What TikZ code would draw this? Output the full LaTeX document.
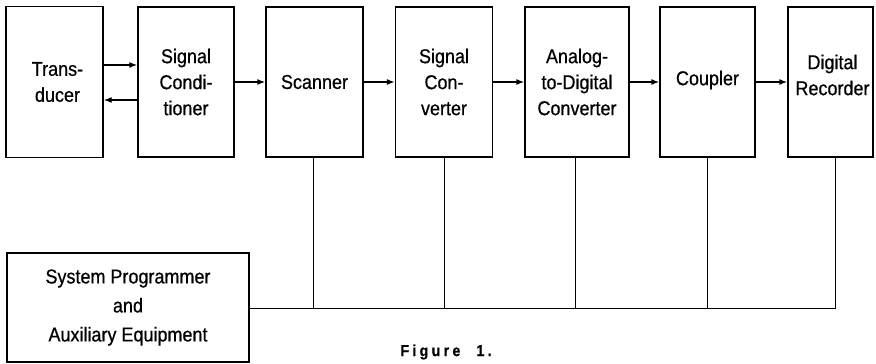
\documentclass[tikz,border=0pt]{standalone}
\usepackage{fontspec}
\setmainfont[FakeStretch=0.9,FakeBold=0.6]{Liberation Sans}
\usetikzlibrary{arrows.meta}
\begin{document}
\begin{tikzpicture}[x=1pt,y=-1pt,
  blk/.style={draw=black,line width=1.3pt,fill=white,inner sep=0pt,align=center,
    font=\fontsize{20}{26}\selectfont},
  lbl/.style={inner sep=0pt,align=center,font=\fontsize{20}{26}\selectfont},
  arr/.style={line width=1.3pt,-{Latex[length=8pt,width=6pt]}},
  bus/.style={line width=0.9pt}]
\useasboundingbox (0,0) rectangle (876,364);
% boxes
\node[blk,minimum width=97pt,minimum height=151pt] (tr) at (54.5,82) {};
\node[blk,minimum width=96pt,minimum height=150pt] (sc) at (186,82) {};
\node[blk,minimum width=97pt,minimum height=150pt] (scan) at (314.5,82) {};
\node[blk,minimum width=97pt,minimum height=150pt] (sconv) at (444,82) {};
\node[blk,minimum width=104pt,minimum height=150pt] (adc) at (577,82) {};
\node[blk,minimum width=95pt,minimum height=150pt] (cpl) at (707.5,82) {};
\node[blk,minimum width=85pt,minimum height=150pt] (dr) at (830.5,82) {};
\node[blk,minimum width=242pt,minimum height=109pt] (sys) at (128,307.5) {};
% texts
\node[lbl] (ttr) at ([xshift=3pt]tr.center) {Trans-\\ducer};
\node[lbl] (tsc) at (sc.center) {Signal\\Condi-\\tioner};
\node[lbl] (tscan) at (scan.center) {Scanner};
\node[lbl] (tsconv) at (sconv.center) {Signal\\Con-\\verter};
\node[lbl] (tadc) at (adc.center) {Analog-\\to-Digital\\Converter};
\node[lbl] (tcpl) at ([yshift=2pt]cpl.center) {Coupler};
\node[lbl] (tdr) at ([xshift=2pt,yshift=7pt]dr.center) {Digital\\Recorder};
\node[lbl,font=\fontsize{20}{29}\selectfont] (tsys) at (sys.center) {System Programmer\\and\\Auxiliary Equipment};
\node[inner sep=0pt,font=\fontsize{16}{18}\selectfont\bfseries\addfontfeature{LetterSpace=20}] (fig) at (446,352) {Figure\hspace{16pt}1.};
% arrows
\draw[arr] ([yshift=17pt]tr.east) -- ([yshift=17pt]tr.east -| sc.west);
\draw[arr] ([yshift=-18pt]sc.west) -- ([yshift=-18pt]sc.west -| tr.east);
\draw[arr] (sc.east) -- (scan.west);
\draw[arr] (scan.east) -- (sconv.west);
\draw[arr] (sconv.east) -- (adc.west);
\draw[arr] (adc.east) -- (cpl.west);
\draw[arr] (cpl.east) -- (dr.west);
% bus
\coordinate (bs) at (sys.east |- 0,308);
\coordinate (b1) at ([xshift=-1.5pt]scan.south |- 0,308);
\coordinate (b5) at ([xshift=5pt]dr.south |- 0,308);
\draw[bus] (sys.east |- bs) -- (b5) -- ([xshift=5pt]dr.south);
\draw[bus] ([xshift=-1.5pt]scan.south) -- (b1);
\draw[bus] (sconv.south) -- (sconv.south |- bs);
\draw[bus] ([xshift=-2pt]adc.south) -- ([xshift=-2pt]adc.south |- bs);
\draw[bus] (cpl.south) -- (cpl.south |- bs);
\end{tikzpicture}
\end{document}
